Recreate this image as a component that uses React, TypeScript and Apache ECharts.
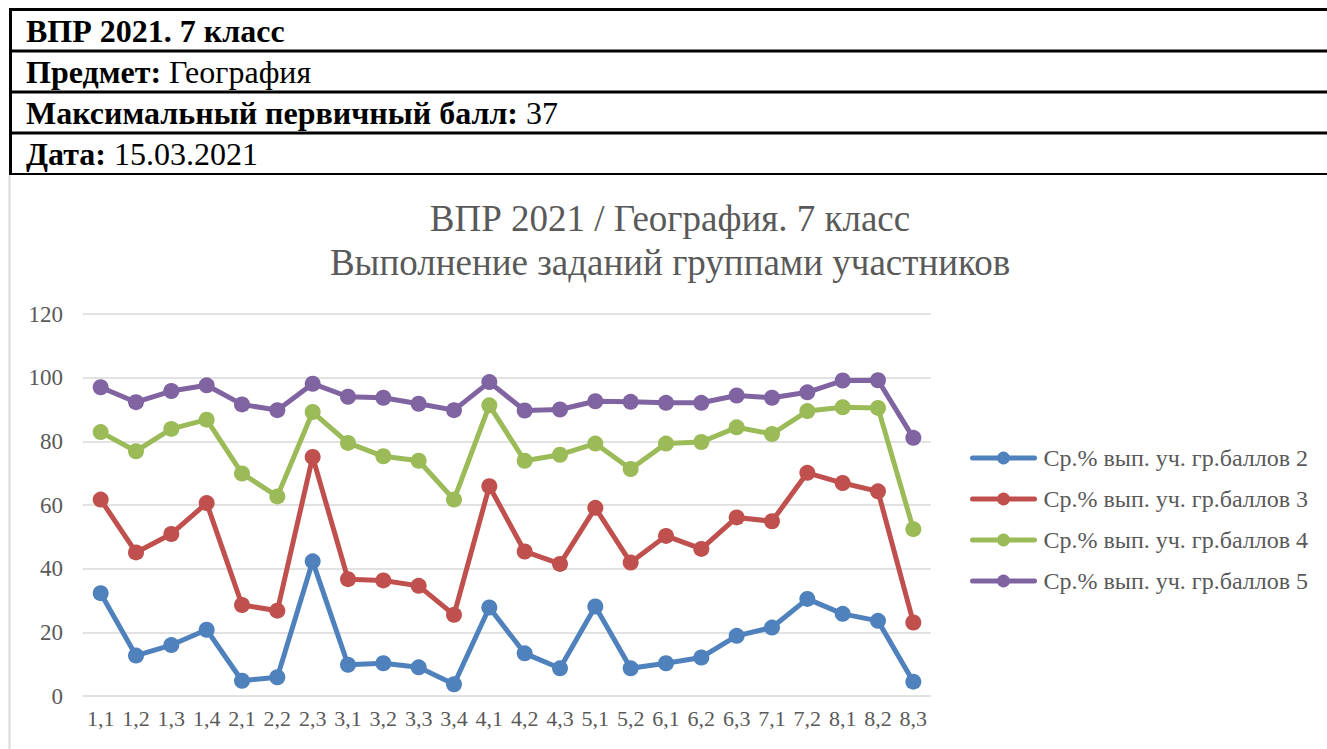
import React, { useEffect, useRef } from "react";
import * as echarts from "echarts";

const categories = ["1,1","1,2","1,3","1,4","2,1","2,2","2,3","3,1","3,2","3,3","3,4","4,1","4,2","4,3","5,1","5,2","6,1","6,2","6,3","7,1","7,2","8,1","8,2","8,3"];

const grade2 = [32.3, 12.7, 16.0, 20.8, 4.8, 5.9, 42.3, 9.8, 10.3, 9.0, 3.7, 27.8, 13.4, 8.7, 28.1, 8.7, 10.3, 12.1, 18.9, 21.5, 30.5, 25.8, 23.6, 4.5];
const grade3 = [61.7, 45.1, 50.9, 60.6, 28.6, 26.8, 75.1, 36.7, 36.3, 34.6, 25.5, 65.9, 45.4, 41.5, 59.1, 41.9, 50.3, 46.2, 56.1, 54.9, 70.1, 66.9, 64.3, 23.1];
const grade4 = [82.9, 76.9, 83.9, 86.8, 69.9, 62.7, 89.2, 79.5, 75.3, 73.9, 61.7, 91.3, 73.9, 75.8, 79.3, 71.3, 79.3, 79.8, 84.4, 82.3, 89.5, 90.7, 90.5, 52.4];
const grade5 = [97.0, 92.3, 95.8, 97.6, 91.6, 89.8, 98.1, 94.0, 93.7, 91.8, 89.8, 98.6, 89.7, 90.0, 92.6, 92.4, 92.1, 92.1, 94.4, 93.7, 95.4, 99.1, 99.2, 81.1];

const seriesNames = [
  "Ср.% вып. уч. гр.баллов 2",
  "Ср.% вып. уч. гр.баллов 3",
  "Ср.% вып. уч. гр.баллов 4",
  "Ср.% вып. уч. гр.баллов 5",
];
const seriesColors = ["#4f81bd", "#c0504d", "#9bbb59", "#8064a2"];
const seriesData = [grade2, grade3, grade4, grade5];

const yTicks = { min: 0, max: 120, interval: 20 };

const chartTitle1 = "ВПР 2021 / География. 7 класс";
const chartTitle2 = "Выполнение заданий группами участников";

const headerRows = [
  { bold: "ВПР 2021. 7 класс", normal: "" },
  { bold: "Предмет:", normal: " География" },
  { bold: "Максимальный первичный балл:", normal: " 37" },
  { bold: "Дата:", normal: " 15.03.2021" },
];

const SERIF = "'Liberation Serif', 'DejaVu Serif', serif";

export default function App() {
  const ref = useRef<HTMLDivElement>(null);
  useEffect(() => {
    document.body.style.margin = "0";
    if (!ref.current) return;
    const chart = echarts.init(ref.current, undefined, { renderer: "svg" });
    const rowLines = [9.5, 51, 92, 133];
    const graphic: any[] = [];
    rowLines.forEach((y) => {
      graphic.push({ type: "line", shape: { x1: 9, y1: y, x2: 1327, y2: y }, style: { stroke: "#000", lineWidth: 3 } });
    });
    graphic.push({ type: "line", shape: { x1: 9, y1: 174, x2: 1327, y2: 174 }, style: { stroke: "#000", lineWidth: 2 } });
    graphic.push({ type: "line", shape: { x1: 10.5, y1: 8, x2: 10.5, y2: 175 }, style: { stroke: "#000", lineWidth: 3 } });
    graphic.push({ type: "line", shape: { x1: 9.5, y1: 175, x2: 9.5, y2: 749 }, style: { stroke: "#d9d9d9", lineWidth: 2 } });
    headerRows.forEach((r, i) => {
      const yc = [31, 72, 113, 154][i];
      graphic.push({
        type: "text",
        x: 26,
        y: yc,
        style: {
          text: "{b|" + r.bold + "}" + (r.normal ? "{n|" + r.normal + "}" : ""),
          verticalAlign: "middle",
          rich: {
            b: { fontFamily: SERIF, fontWeight: "bold", fontSize: 32, fill: "#000" },
            n: { fontFamily: SERIF, fontWeight: "normal", fontSize: 32, fill: "#000" },
          },
        },
      });
    });
    graphic.push({ type: "text", x: 670, y: 218, style: { text: chartTitle1, fontFamily: SERIF, fontSize: 37, fill: "#595959", align: "center", verticalAlign: "middle" } });
    graphic.push({ type: "text", x: 670, y: 262, style: { text: chartTitle2, fontFamily: SERIF, fontSize: 37, fill: "#595959", align: "center", verticalAlign: "middle" } });

    chart.setOption({
      animation: false,
      backgroundColor: "#fff",
      graphic,
      grid: { left: 83, right: 396, top: 314, bottom: 53, containLabel: false },
      legend: {
        orient: "vertical",
        left: 965,
        top: 441,
        itemWidth: 62,
        itemHeight: 16,
        itemGap: 17,
        data: seriesNames,
        lineStyle: { width: 5, cap: "round" },
        textStyle: { fontFamily: SERIF, fontSize: 24, color: "#595959", padding: [0, 0, 0, 4] },
      },
      xAxis: {
        type: "category",
        data: categories,
        boundaryGap: true,
        axisLine: { show: false },
        axisTick: { show: false },
        axisLabel: { fontFamily: SERIF, fontSize: 22, color: "#595959", margin: 11, interval: 0 },
      },
      yAxis: {
        type: "value",
        min: yTicks.min,
        max: yTicks.max,
        interval: yTicks.interval,
        axisLine: { show: false },
        axisTick: { show: false },
        splitLine: { lineStyle: { color: "#d9d9d9", width: 1.5 } },
        axisLabel: { fontFamily: SERIF, fontSize: 23, color: "#595959", margin: 20 },
      },
      series: seriesData.map((d, i) => ({
        name: seriesNames[i],
        type: "line",
        data: d,
        symbol: "circle",
        symbolSize: 16,
        showSymbol: true,
        lineStyle: { color: seriesColors[i], width: 5 },
        itemStyle: { color: seriesColors[i] },
        emphasis: { disabled: true },
      })),
    });
    return () => chart.dispose();
  }, []);
  return <div ref={ref} style={{ position: "absolute", left: 0, top: 0, width: 1327, height: 749 }} />;
}
